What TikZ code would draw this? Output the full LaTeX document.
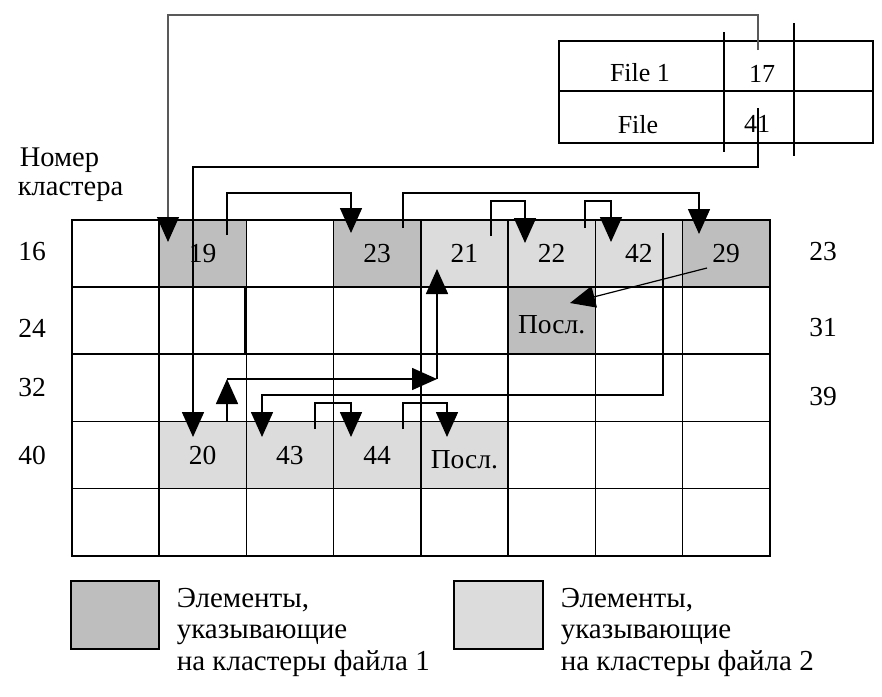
\documentclass[tikz,border=0pt]{standalone}
\usepackage{fontspec}
\setmainfont{Liberation Serif}
\usetikzlibrary{arrows.meta}
\definecolor{darkcell}{HTML}{BEBEBE}
\definecolor{lightcell}{HTML}{DCDCDC}
\begin{document}
\begin{tikzpicture}[x=1pt,y=-1pt,line width=1.6pt,
  gridcell/.style={draw, minimum width=87.25pt, minimum height=67.2pt, inner sep=0pt, anchor=north west},
  filled/.style={draw=none, minimum width=87.25pt, minimum height=67.2pt, inner sep=0pt, anchor=north west, font=\fontsize{27.5}{32}\selectfont, text height=18pt, text depth=0pt},
  lastcell/.style={text height=26pt},
  lbl/.style={font=\fontsize{27.5}{32}\selectfont, inner sep=0pt},
  tabtext/.style={font=\fontsize{26}{30}\selectfont, inner sep=0pt},
  legtext/.style={font=\fontsize{29}{34}\selectfont, inner sep=0pt, anchor=base west},
  conn/.style={line width=1.6pt, -{Triangle[width=22pt,length=25pt,color=black]}},
  plainline/.style={line width=1.6pt}]
\useasboundingbox (0,0) rectangle (882,696);
% filled cells
\node[filled, fill=darkcell]  (k19) at (158.25,219) {19};
\node[filled, fill=darkcell]  (k23) at (332.75,219) {23};
\node[filled, fill=lightcell] (k21) at (420,219) {21};
\node[filled, fill=lightcell] (k22) at (507.25,219) {22};
\node[filled, fill=lightcell] (k42) at (594.5,219) {42};
\node[filled, fill=darkcell]  (k29) at (681.75,219) {29};
\node[filled, lastcell, fill=darkcell]  (kp1) at (507.25,286.2) {Посл.};
\node[filled, fill=lightcell] (k20) at (158.25,420.6) {20};
\node[filled, fill=lightcell] (k43) at (245.5,420.6) {43};
\node[filled, fill=lightcell] (k44) at (332.75,420.6) {44};
\node[filled, lastcell, fill=lightcell] (kp2) at (420,420.6) {Посл.};
% grid
\foreach \r in {0,...,4}{
  \foreach \c in {0,...,7}{
    \node[gridcell] (g\r\c) at ({71+87.25*\c},{219+67.2*\r}) {};
  }
}
\draw[line width=2.6pt] (g12.north west) -- (g12.south west);
% row labels
\node[lbl] (l16) at (32,252) {16};
\node[lbl] (l24) at (32,328) {24};
\node[lbl] (l32) at (32,388) {32};
\node[lbl] (l40) at (32,455) {40};
\node[lbl] (r23) at (823,252) {23};
\node[lbl] (r31) at (823,328) {31};
\node[lbl] (r39) at (823,397) {39};
\node[lbl, anchor=west, font=\fontsize{28.5}{33}\selectfont] (hdr1) at (19,160) {Номер};
\node[lbl, anchor=west, font=\fontsize{28.5}{33}\selectfont] (hdr2) at (17,192) {кластера};
% file table
\draw[line width=1.4pt] (559,41) rectangle (873,143);
\draw[line width=1.4pt] (559,91) -- (873,91);
\draw[line width=1.2pt] (724,32) -- (724,152);
\draw[line width=1.2pt] (794,23) -- (794,156);
\node[tabtext] (f1) at (640,73) {File 1};
\node[tabtext] (f2) at (638,125) {File};
\node[tabtext] (n17) at (762,74) {17};
\node[tabtext] (n41) at (757,124) {41};
% connector coordinates
\coordinate (a0) at (758,50);  \coordinate (a1) at (168,15);  \coordinate (a2) at (168,242);
\coordinate (b0) at (758,108); \coordinate (b1) at (193,167); \coordinate (b2) at (193,437);
\coordinate (c0) at (227,235); \coordinate (c1) at (351,193); \coordinate (c2) at (351,233);
\coordinate (d0) at (403,228); \coordinate (d1) at (699,193); \coordinate (d2) at (699,234);
\coordinate (e0) at (491,236); \coordinate (e1) at (525,201); \coordinate (e2) at (525,243);
\coordinate (f0) at (585,228); \coordinate (fa) at (611,201); \coordinate (fb) at (611,242);
\coordinate (h0) at (663,233); \coordinate (h1) at (262,395); \coordinate (h2) at (262,437);
\coordinate (i0) at (707,268); \coordinate (i1) at (570,303);
\coordinate (j0) at (227,420.6); \coordinate (j1) at (227,379); \coordinate (j2) at (437,379); \coordinate (j3) at (437,269);
\coordinate (m0) at (315,429); \coordinate (m1) at (351,403); \coordinate (m2) at (351,437);
\coordinate (o0) at (403,429); \coordinate (o1) at (447,403); \coordinate (o2) at (447,437);
% connectors
\draw[conn, line width=1.2pt, black!65] (a0) |- (a1) -- (a2);
\draw[conn] (b0) |- (b1) -- (b2);
\draw[conn] (c0) |- (c1) -- (c2);
\draw[conn] (d0) |- (d1) -- (d2);
\draw[conn] (e0) |- (e1) -- (e2);
\draw[conn] (f0) |- (fa) -- (fb);
\draw[conn] (h0) |- (h1) -- (h2);
\draw[conn, line width=1.2pt] (i0) -- (i1);
\draw[conn] (j0) -- (j1);
\draw[conn] (j1) -- (j2);
\draw[conn] (j2) -- (j3);
\draw[conn] (m0) |- (m1) -- (m2);
\draw[conn] (o0) |- (o1) -- (o2);
% legend
\draw[line width=1.6pt, fill=darkcell] (71,581) rectangle (159,649);
\draw[line width=1.6pt, fill=lightcell] (454,581) rectangle (543,649);
\node[legtext] (la1) at (176,607) {Элементы,};
\node[legtext] (la2) at (176,638) {указывающие};
\node[legtext] (la3) at (176,670) {на кластеры файла 1};
\node[legtext] (lb1) at (560,607) {Элементы,};
\node[legtext] (lb2) at (560,638) {указывающие};
\node[legtext] (lb3) at (560,670) {на кластеры файла 2};
\end{tikzpicture}
\end{document}
